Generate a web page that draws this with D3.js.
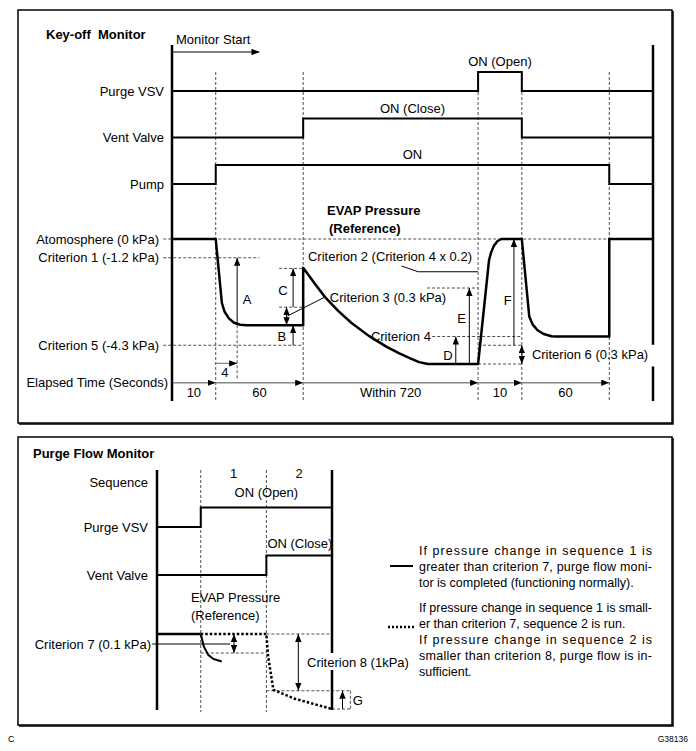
<!DOCTYPE html>
<meta charset="utf-8">
<style>
body { margin: 0; background: #fff; }
svg text { font-family: "Liberation Sans", Arial, Helvetica, sans-serif; font-size: 13px; fill: #000; white-space: pre; }
.bold { font-weight: bold; }
.sig { fill: none; stroke: #000; stroke-width: 2px; }
.axis { stroke: #000; stroke-width: 2.5px; }
.evap { fill: none; stroke: #000; stroke-width: 2.5px; stroke-linejoin: round; }
.dash { fill: none; stroke: #222; stroke-width: 0.8px; stroke-dasharray: 3,2; }
.thin { fill: none; stroke: #000; stroke-width: 1px; }
.grey { fill: none; stroke: #888; stroke-width: 1.3px; }
.frame { fill: none; stroke: #000; stroke-width: 1.5px; }
.legend { font-size: 12.5px; }
</style>
<body>
<script src="https://d3js.org/d3.v7.min.js"></script>
<script>
// ---------- Key-off monitor (time in grid units, pressure in depth units below atmosphere) ----------
var phaseEdges = [0, 1, 3, 7, 8, 10, 11];
var phaseSecs = ["10", "60", "Within 720", "10", "60"];
var signalRows = ["Purge VSV", "Vent Valve", "Pump"];
var signalOn = ["ON (Open)", "ON (Close)", "ON"];
var purgeSteps = [[0, 0], [7, 1], [8, 0], [11, 0]];
var ventSteps = [[0, 0], [3, 1], [8, 0], [11, 0]];
var pumpSteps = [[0, 0], [1, 1], [10, 0], [11, 0]];
var levelNames = ["Atomosphere (0 kPa)", "Criterion 1 (-1.2 kPa)", "Criterion 5 (-4.3 kPa)"];
var levelDepth = [0, 1.5, 8.5];
var levelEnd = [10, 2.0, 3];
var evapKeyOff = [[0, 0], [1, 0], [1.14, 5.1], [1.2, 5.8], [1.3, 6.35], [1.42, 6.7], [1.56, 6.86], [1.71, 6.9],
  [3, 6.9], [3, 2.3], [3.25, 3.5], [3.5, 4.65], [3.8, 5.75], [4.1, 6.7], [4.5, 7.75], [4.92, 8.65],
  [5.2, 9.15], [5.45, 9.55], [5.65, 9.85], [5.85, 10], [7, 10],
  [7.25, 1.7], [7.3, 1.05], [7.36, 0.55], [7.44, 0.18], [7.53, 0], [8, 0],
  [8.17, 6.2], [8.25, 6.85], [8.36, 7.3], [8.5, 7.6], [8.68, 7.78], [8.8, 7.8], [10, 7.8], [10, 0], [11, 0]];
// dashed guides: [from, to, depth]
var guides = [[2.45, 3, 2.35], [2.45, 3, 5.45], [5.83, 7, 3.92], [5.95, 8, 7.8], [7, 8, 8.5], [7, 8, 10]];
// arrows: [x, from depth, to depth, double-headed]
var arrows = [[1.49, 6.9, 1.5, 0], [2.77, 5.45, 2.35, 0], [2.62, 5.45, 6.9, 1], [2.77, 8.5, 6.9, 0],
  [6.49, 10, 7.8, 0], [6.8, 10, 3.92, 0], [7.82, 8.5, 0, 0], [8.0, 8.5, 10, 1]];
var letters = [["A", 1.72, 4.8], ["C", 2.54, 4.08], ["B", 2.51, 7.82], ["D", 6.31, 9.28], ["E", 6.62, 6.32], ["F", 7.68, 4.88], ["4", 1.21, 10.7]];
var criteria = [["Criterion 2 (Criterion 4 x 0.2)", 3.11, 1.36, "start"], ["Criterion 3 (0.3 kPa)", 3.61, 4.64, "start"],
  ["Criterion 4", 5.92, 7.8, "end"], ["Criterion 6 (0.3 kPa)", 8.23, 9.2, "start"]];
var leader2 = [[5.25, 2.16], [5.63, 2.62], [7, 2.62]];
var leader3 = [[3.5, 4.64], [2.64, 6.16]];

// ---------- Purge flow monitor ----------
var seqEdges = [0, 1, 2.5, 4];
var seqNames = ["1", "2"];
var pfRows = ["Purge VSV", "Vent Valve"];
var pfOn = ["ON (Open)", "ON (Close)"];
var pfPurge = [[0, 0], [1, 1], [4, 1]];
var pfVent = [[0, 0], [2.5, 1], [4, 1]];
var pfNormal = [[0, 0], [1, 0], [1.07, 1.0], [1.17, 1.67], [1.29, 2.0], [1.48, 2.2]];
var pfLow = [[1, 0], [2.5, 0], [2.54, 1.8], [2.66, 4.46], [3.12, 5.15], [4, 6.0]];
var pfGuides = [[1, 2.5, 1.52], [2.5, 4, 0], [2.5, 4.42, 4.54], [4, 4.42, 6]];
var pfArrows = [[1.76, 0, 1.52, 1], [3.23, 0, 4.54, 1], [4.24, 6, 4.54, 0]];
var legendNormal = ["If pressure change in sequence 1 is", "greater than criterion 7, purge flow moni-", "tor is completed (functioning normally)."];
var legendNormalJust = [1, 1, 0];
var legendLow = ["If pressure change in sequence 1 is small-", "er than criterion 7, sequence 2 is run.", "If pressure change in sequence 2 is", "smaller than criterion 8, purge flow is in-", "sufficient."];
var legendLowJust = [1, 0, 1, 1, 0];

var svg = d3.select("body").append("svg").attr("width", 696).attr("height", 751);

var defs = svg.append("defs");
defs.append("marker").attr("id", "head").attr("viewBox", "0 0 10 8")
    .attr("refX", 10).attr("refY", 4).attr("markerUnits", "userSpaceOnUse")
    .attr("markerWidth", 8).attr("markerHeight", 6.4).attr("orient", "auto-start-reverse")
  .append("path").attr("d", "M0,0L10,4L0,8z").attr("fill", "#000");

function frame(x0, y0, x1, y1) {
  svg.append("rect").attr("class", "frame").attr("x", x0).attr("y", y0).attr("width", x1 - x0).attr("height", y1 - y0);
  svg.append("path").attr("d", "M" + (x1 + 1) + "," + (y0 + 1) + "V" + (y1 + 1) + "H" + (x0 + 1))
      .attr("fill", "none").attr("stroke", "#000").attr("stroke-width", 1.5);
}
function seg(g, cls, x0, y0, x1, y1) {
  return g.append("line").attr("class", cls).attr("x1", x0).attr("y1", y0).attr("x2", x1).attr("y2", y1);
}
function label(g, t, x, y, anchor, cls) {
  return g.append("text").attr("x", x).attr("y", y).attr("text-anchor", anchor || "start").attr("class", cls || null).text(t);
}

frame(18, 10, 672, 423);
frame(18, 437, 672, 725);

// ================= Key-off monitor =================
var x = d3.scaleLinear().domain([0, 11]).range([172, 653]);
var yP = d3.scaleLinear().domain([0, 10]).range([239, 364]);
var rowY = d3.scalePoint().domain(signalRows).range([91, 184]);
var sigH = 19;
var keyG = svg.append("g");

label(keyG, "Key-off  Monitor", 46, 39, "start", "bold");
label(keyG, "Monitor Start", 176, 44);
seg(keyG, "thin", x(0), 52, x(2), 52).attr("marker-end", "url(#head)");

// phase boundaries
phaseEdges.slice(1, -1).forEach(function(t) {
  seg(keyG, "dash", x(t), rowY("Purge VSV") - sigH, x(t), 401);
});

// signals
var steps = [purgeSteps, ventSteps, pumpSteps];
signalRows.forEach(function(r, i) {
  var line = d3.line().curve(d3.curveStepAfter)
      .x(function(d) { return x(d[0]); })
      .y(function(d) { return rowY(r) - d[1] * sigH; });
  keyG.append("path").attr("class", "sig").attr("d", line(steps[i]));
  label(keyG, r, 164, rowY(r) + 4.5, "end");
  var k = steps[i].findIndex(function(d) { return d[1] === 1; });
  label(keyG, signalOn[i], x((steps[i][k][0] + steps[i][k + 1][0]) / 2), rowY(r) - sigH - 6, "middle");
});

// pressure levels
levelNames.forEach(function(n, i) {
  seg(keyG, "dash", x(-0.2), yP(levelDepth[i]), x(levelEnd[i]), yP(levelDepth[i]));
  label(keyG, n, 159, yP(levelDepth[i]) + 4.5, "end");
});
guides.forEach(function(g) { seg(keyG, "dash", x(g[0]), yP(g[2]), x(g[1]), yP(g[2])); });
seg(keyG, "dash", x(1.49), yP(6.9), x(1.49), yP(11.3));

label(keyG, "EVAP Pressure", 327, 215, "start", "bold");
label(keyG, "(Reference)", 329, 233, "start", "bold");

var pLine = d3.line().x(function(d) { return x(d[0]); }).y(function(d) { return yP(d[1]); });
keyG.append("path").attr("class", "evap").attr("d", pLine(evapKeyOff));

arrows.forEach(function(a) {
  var l = seg(keyG, "thin", x(a[0]), yP(a[1]), x(a[0]), yP(a[2])).attr("marker-end", "url(#head)");
  if (a[3]) l.attr("marker-start", "url(#head)");
});
seg(keyG, "grey", x(1), yP(9.95), x(1.49), yP(9.95)).attr("marker-end", "url(#head)");
letters.forEach(function(l) { label(keyG, l[0], x(l[1]), yP(l[2]) + 4.5, "middle"); });
criteria.forEach(function(c) { label(keyG, c[0], x(c[1]), yP(c[2]) + 4.5, c[3]); });
keyG.append("path").attr("class", "thin").attr("d", pLine(leader2));
keyG.append("path").attr("class", "thin").attr("d", pLine(leader3));

// elapsed time
label(keyG, "Elapsed Time (Seconds)", 168, yP(11.5) + 4.5, "end");
phaseSecs.forEach(function(s, i) {
  seg(keyG, "grey", x(phaseEdges[i]), yP(11.5), x(phaseEdges[i + 1]), yP(11.5)).attr("marker-end", "url(#head)");
  label(keyG, s, x((phaseEdges[i] + phaseEdges[i + 1]) / 2), yP(12.25) + 4.5, "middle");
});

// main axes
seg(keyG, "axis", x(0), 45, x(0), 401);
seg(keyG, "axis", x(11), 45, x(11), yP(8.45));
seg(keyG, "axis", x(11), yP(10.2), x(11), 401);

// ================= Purge flow monitor =================
var x2 = d3.scaleLinear().domain([0, 4]).range([157, 332]);
var yQ = d3.scaleLinear().domain([0, 10]).range([634, 759]);
var row2 = d3.scalePoint().domain(pfRows).range([527, 575]);
var sigH2 = 19.5;
var flowG = svg.append("g");

label(flowG, "Purge Flow Monitor", 33, 458, "start", "bold");
label(flowG, "Sequence", 148, 487, "end");
seqNames.forEach(function(s, i) {
  label(flowG, s, x2((seqEdges[i + 1] + seqEdges[i + 2]) / 2), 478, "middle");
});
seqEdges.slice(1, -1).forEach(function(t) { seg(flowG, "dash", x2(t), 470, x2(t), 712); });

var pfSteps = [pfPurge, pfVent];
pfRows.forEach(function(r, i) {
  var line = d3.line().curve(d3.curveStepAfter)
      .x(function(d) { return x2(d[0]); })
      .y(function(d) { return row2(r) - d[1] * sigH2; });
  flowG.append("path").attr("class", "sig").attr("d", line(pfSteps[i]));
  label(flowG, r, 148, row2(r) + 4.5, "end");
});
label(flowG, pfOn[0], x2(2.5), row2("Purge VSV") - sigH2 - 11, "middle");
label(flowG, pfOn[1], x2(2.5) + 1, row2("Vent Valve") - sigH2 - 8, "start");

label(flowG, "EVAP Pressure", 191, 602);
label(flowG, "(Reference)", 191, 620);

pfGuides.forEach(function(g) { seg(flowG, "dash", x2(g[0]), yQ(g[2]), x2(g[1]), yQ(g[2])); });
seg(flowG, "dash", x2(4.42), yQ(4.54), x2(4.42), yQ(6));

var qLine = d3.line().x(function(d) { return x2(d[0]); }).y(function(d) { return yQ(d[1]); });
flowG.append("path").attr("class", "evap").attr("stroke-dasharray", "2.5,2").attr("d", qLine(pfLow));
flowG.append("path").attr("class", "evap").attr("d", qLine(pfNormal.slice(0, 2)));
flowG.append("path").attr("class", "evap").style("stroke-width", "2px").attr("d", qLine(pfNormal.slice(1)));

seg(flowG, "thin", x2(-0.11), yQ(0.8), x2(1.67), yQ(0.8));
label(flowG, "Criterion 7 (0.1 kPa)", 151, yQ(0.8) + 4.5, "end");
pfArrows.forEach(function(a) {
  var l = seg(flowG, "thin", x2(a[0]), yQ(a[1]), x2(a[0]), yQ(a[2])).attr("marker-end", "url(#head)");
  if (a[3]) l.attr("marker-start", "url(#head)");
});
label(flowG, "Criterion 8 (1kPa)", 307, yQ(2.25) + 4.5);
label(flowG, "G", x2(4.43) + 2, yQ(5.3) + 4.5);

seg(flowG, "axis", x2(0), 470, x2(0), 710);
seg(flowG, "axis", x2(4), 470, x2(4), yQ(1.52));
seg(flowG, "axis", x2(4), yQ(2.88), x2(4), 710);

// legend
var leg = svg.append("g");
seg(leg, "sig", 390, 566, 413, 566);
legendNormal.forEach(function(t, i) {
  var tx = label(leg, t, 419, 554.5 + i * 16, "start", "legend");
  if (legendNormalJust[i]) tx.attr("textLength", 233).attr("lengthAdjust", "spacing");
});
seg(leg, "sig", 388, 627, 416, 627).attr("stroke-dasharray", "2,2").style("stroke-width", "2.5px");
legendLow.forEach(function(t, i) {
  var tx = label(leg, t, 419, 612 + i * 16, "start", "legend");
  if (legendLowJust[i]) tx.attr("textLength", 233).attr("lengthAdjust", "spacing");
});

label(svg, "C", 8, 742).style("font-size", "9px");
label(svg, "G38136", 688, 742, "end").style("font-size", "8.5px");
</script>
</body>
